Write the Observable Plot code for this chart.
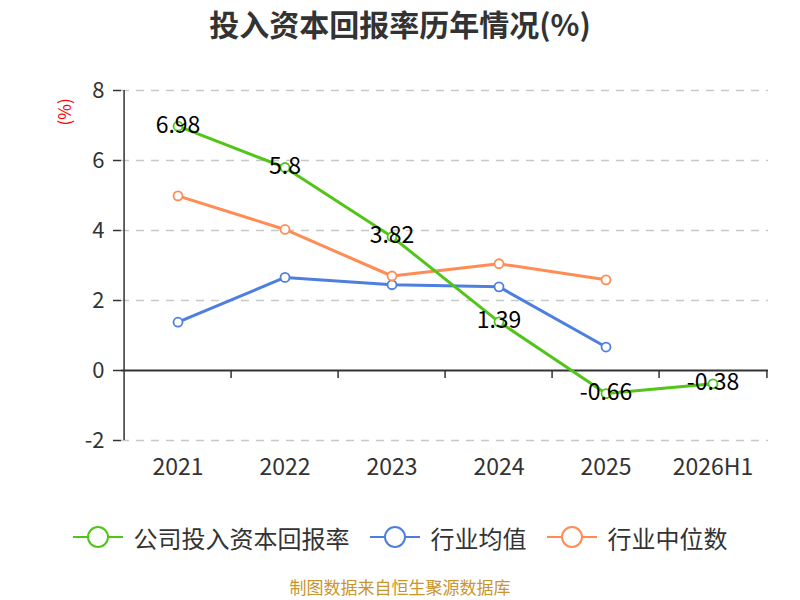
<!DOCTYPE html>
<html>
<head>
<meta charset="utf-8">
<script src="https://cdn.jsdelivr.net/npm/d3@7"></script>
<script src="https://cdn.jsdelivr.net/npm/@observablehq/plot@0.6"></script>
<style>
  body { margin: 0; background: #fff; font-family: "Noto Sans CJK SC", "Noto Sans", sans-serif; }
  #wrap { width: 800px; height: 600px; overflow: hidden; }
  #title { height: 50px; line-height: 46px; text-align: center; font-size: 30px; font-weight: bold; color: #333; }
  #legend { height: 74px; display: flex; justify-content: center; align-items: center; font-size: 24px; color: #333; }
  .item { display: flex; align-items: center; margin: 0 10px; }
  .item svg { margin-right: 11px; }
  #caption { height: 26px; line-height: 26px; text-align: center; font-size: 17px; color: #c9952c; }
</style>
</head>
<body>
<div id="wrap">
  <div id="title">投入资本回报率历年情况(%)</div>
  <div id="chart"></div>
  <div id="legend"></div>
  <div id="caption">制图数据来自恒生聚源数据库</div>
</div>
<script>
const categories = ["2021", "2022", "2023", "2024", "2025", "2026H1"];
const companyValues = [6.98, 5.8, 3.82, 1.39, -0.66, -0.38];
const avgCategories = ["2021", "2022", "2023", "2024", "2025"];
const industryAvg = [1.38, 2.66, 2.45, 2.39, 0.67];
const industryMedian = [4.99, 4.03, 2.70, 3.05, 2.59];
const yTicks = [-2, 0, 2, 4, 6, 8];
const seriesNames = ["公司投入资本回报率", "行业均值", "行业中位数"];
const seriesColors = ["#52c41a", "#4e7fe0", "#ff8c55"];

const company = categories.map((c, i) => ({x: c, y: companyValues[i]}));
const avg = avgCategories.map((c, i) => ({x: c, y: industryAvg[i]}));
const median = avgCategories.map((c, i) => ({x: c, y: industryMedian[i]}));

const W = 800, H = 450, mL = 121, mR = 32, mT = 40, mB = 60;
const bw = (W - mL - mR) / categories.length;
const font = '"Noto Sans CJK SC", "Noto Sans", sans-serif';

const chart = Plot.plot({
  width: W, height: H,
  marginLeft: mL, marginRight: mR, marginTop: mT, marginBottom: mB,
  style: {fontFamily: font, background: "#fff", overflow: "visible"},
  x: {type: "band", domain: categories, padding: 0},
  y: {domain: [-2, 8]},
  marks: [
    Plot.ruleY(yTicks.filter(d => d !== 0), {stroke: "#c8c8c8", strokeWidth: 1.5, strokeDasharray: "8,7"}),
    Plot.axisY({ticks: yTicks, tickFormat: d => String(d), tickSize: 8, tickPadding: 9, fontSize: 22, color: "#333", stroke: "#333", strokeWidth: 1.5, label: null}),
    Plot.axisX({tickSize: 0, tickPadding: 18, fontSize: 23, color: "#333", label: null}),
    Plot.ruleX([categories[0]], {dx: -bw / 2, y1: -2, y2: 8, stroke: "#333", strokeWidth: 1.5}),
    Plot.ruleY([0], {stroke: "#333", strokeWidth: 2}),
    Plot.ruleX(categories.slice(1), {dx: -bw / 2, y1: 0, y2: 0, insetBottom: -8, stroke: "#333", strokeWidth: 1.5}),
    Plot.ruleX([categories[categories.length - 1]], {dx: bw / 2, y1: 0, y2: 0, insetBottom: -8, stroke: "#333", strokeWidth: 1.5}),
    Plot.line(avg, {x: "x", y: "y", stroke: seriesColors[1], strokeWidth: 3}),
    Plot.dot(avg, {x: "x", y: "y", r: 4.5, fill: "#fff", stroke: seriesColors[1], strokeWidth: 1.8}),
    Plot.line(median, {x: "x", y: "y", stroke: seriesColors[2], strokeWidth: 3}),
    Plot.dot(median, {x: "x", y: "y", r: 4.5, fill: "#fff", stroke: seriesColors[2], strokeWidth: 1.8}),
    Plot.line(company, {x: "x", y: "y", stroke: seriesColors[0], strokeWidth: 3}),
    Plot.dot(company, {x: "x", y: "y", r: 4.5, fill: "#fff", stroke: seriesColors[0], strokeWidth: 1.8}),
    Plot.text(company, {x: "x", y: "y", text: d => String(d.y), fontSize: 23, fill: "#000", dy: -1}),
    Plot.text(["(%)"], {frameAnchor: "top-left", dx: -63, dy: 35, rotate: -90, fill: "red", fontSize: 17})
  ]
});
document.getElementById("chart").appendChild(chart);

const legend = document.getElementById("legend");
seriesNames.forEach((name, i) => {
  const item = document.createElement("div");
  item.className = "item";
  item.innerHTML = `<svg width="50" height="24"><line x1="0" y1="12" x2="50" y2="12" stroke="${seriesColors[i]}" stroke-width="2"/><circle cx="25" cy="12" r="10" fill="#fff" stroke="${seriesColors[i]}" stroke-width="2"/></svg><span>${name}</span>`;
  legend.appendChild(item);
});
</script>
</body>
</html>
